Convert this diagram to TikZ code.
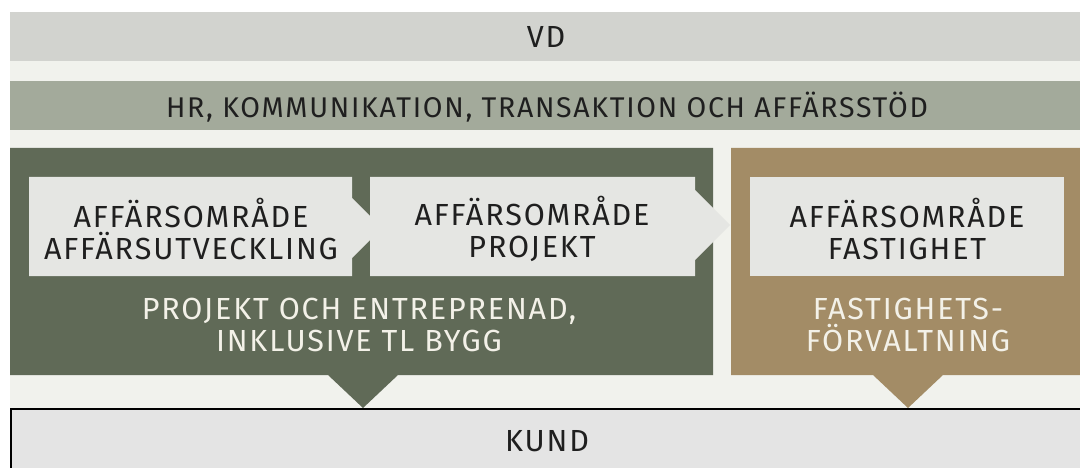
\documentclass[tikz,border=0pt]{standalone}
\usepackage{fontspec}
\setmainfont{Fira Sans}[LetterSpace=6]
\usepackage{xcolor}
\usepackage{tikz}

\definecolor{backdrop}{HTML}{F1F2ED}
\definecolor{vdgrey}{HTML}{D2D3CF}
\definecolor{hrgrey}{HTML}{A3AA9B}
\definecolor{moss}{HTML}{606A57}
\definecolor{tan}{HTML}{A38C66}
\definecolor{tile}{HTML}{E5E6E3}
\definecolor{kundgrey}{HTML}{E4E4E4}
\definecolor{ink}{HTML}{1F1F1F}
\definecolor{paper}{HTML}{F3F1E8}

\begin{document}
\begin{tikzpicture}[x=1pt,y=-1pt,
                    txt/.style={font=\fontsize{30.5}{32}\selectfont,text=ink,align=center,inner sep=0pt},
                    oneline/.style={txt,text depth=0pt},
                    bright/.style={txt,text=paper}]
                    \useasboundingbox (0,0) rectangle (1080,468);
                    \fill[backdrop] (10,12) rectangle (1080,468);

                    \fill[vdgrey] (10,12) rectangle (1080,61);
                    \fill[hrgrey] (10,81) rectangle (1080,130);

                    \fill[moss] (10,148) -- (713,148) -- (713,375) -- (398,375) -- (363,408) -- (328,375) -- (10,375) -- cycle;
                    \fill[tan] (731,148) -- (1080,148) -- (1080,375) -- (943,375) -- (908,408) -- (873,375) -- (731,375) -- cycle;

                    \fill[tile] (29,177) -- (352,177) -- (352,198) -- (382,228) -- (352,258) -- (352,276) -- (29,276) -- cycle;
                    \fill[tile] (370,177) -- (695,177) -- (695,190) -- (730,225) -- (695,260) -- (695,276) -- (370,276) -- cycle;
                    \fill[tile] (750,177) rectangle (1064,276);

                    \filldraw[fill=kundgrey,draw=black,line width=2pt] (11,409) rectangle (1090,480);

                    \node[oneline] (vd) at (546,37) {VD};
                    \node[oneline,font=\fontsize{28.5}{32}\selectfont] (hr) at (547,105) {HR, KOMMUNIKATION, TRANSAKTION OCH AFFÄRSSTÖD};
                    \node[txt] (utv) at (191,229) {AFFÄRSOMRÅDE\\AFFÄRSUTVECKLING};
                    \node[txt] (proj) at (532,229) {AFFÄRSOMRÅDE\\PROJEKT};
                    \node[txt] (fast) at (907,229) {AFFÄRSOMRÅDE\\FASTIGHET};
                    \node[bright] (entr) at (359,325) {PROJEKT OCH ENTREPRENAD,\\INKLUSIVE TL BYGG};
                    \node[bright] (forv) at (908,325) {FASTIGHETS-\\FÖRVALTNING};
                    \node[oneline] (kund) at (547,441) {KUND};
                \end{tikzpicture}
\end{document}
